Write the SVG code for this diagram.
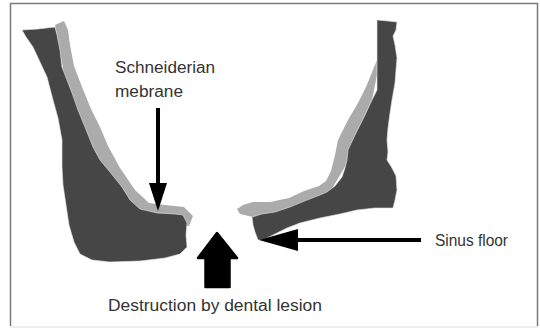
<svg xmlns="http://www.w3.org/2000/svg" width="540" height="329" viewBox="0 0 540 329">
  <style>
    .bone { fill: #464646; stroke: #e6e6e6; stroke-width: 0.6; }
    .mucosa { fill: #ababab; }
    .label { font-family: "Liberation Sans", Arial, sans-serif; font-size: 16px; fill: #333333; }
    .pointer { stroke: #000000; stroke-width: 4; fill: none; }
    .head { fill: #000000; }
  </style>

  <!-- frame -->
  <rect x="0" y="0" width="540" height="329" fill="#ffffff"/>
  <path d="M10.5,326 V3.5 H537.5 V326" fill="none" stroke="#7a7a7a" stroke-width="1.5"/>
  <line x1="10" y1="327" x2="538" y2="327" stroke="#dddddd" stroke-width="1"/>

  <!-- left sinus wall -->
  <g id="wall-left">
    <path class="mucosa" d="M55,25 L64,21 L68,30 L70,45 L74,66 L82,87 L91,109 L100,127 L108,146 L120,168 L135,190 L149,203 L165,205 L184,207 L193,216 L189,226 L170,225 L140,222 L115,200 L95,160 L80,120 L65,80 L58,40 Z"/>
    <path class="bone" d="M22,30 L38,29 L55,27 L57,35 L60,50 L62,67 L67,80 L72,93 L78,110 L85,127 L93,147 L100,160 L110,172 L122,187 L130,200 L140,209 L157,213 L175,214 L183,215 L187,223 L186,235 L187,247 L180,254 L165,258 L140,261 L110,262 L92,260 L80,254 L74,242 L69,225 L66,205 L63,185 L62,167 L62,140 L58,118 L53,100 L47,77 L40,62 L33,47 L26,37 Z"/>
  </g>

  <!-- right sinus wall -->
  <g id="wall-right">
    <path class="mucosa" d="M366,20 L377,20 L377,60 L366,87 L358,103 L348,120 L338,140 L335,155 L331,171 L326,181 L319,186 L304,191 L289,198 L270,202 L253,202 L243,205 L237,209 L240,214 L253,217 L290,210 L330,192 L346,165 L355,135 L372,100 L380,60 L380,20 Z"/>
    <path class="bone" d="M377,20 L388,21 L397,22 L396,30 L393,36 L395,45 L397,58 L396,70 L395,83 L392,100 L390,113 L388,128 L387,140 L388,152 L387,160 L392,168 L396,176 L397,190 L395,200 L393,208 L375,208 L357,210 L340,214 L320,218 L300,223 L287,228 L275,234 L263,240 L258,240 L255,232 L253,225 L252,217 L262,214 L275,212 L290,207 L307,200 L320,195 L327,192 L335,186 L342,177 L345,168 L347,160 L348,150 L355,135 L365,115 L372,100 L377,90 Z"/>
  </g>

  <!-- pointers -->
  <g id="connectors">
    <line class="pointer" x1="158" y1="108" x2="158" y2="186"/>
    <polygon class="head" points="149,183 167,183 158,211"/>
    <line class="pointer" x1="296" y1="240" x2="421" y2="240"/>
    <polygon class="head" points="259,240 298,229 298,251"/>
    <polygon class="head" points="217,233 237,258 229.5,258 229.5,287 205.5,287 205.5,258 198,258" stroke="#000000" stroke-width="2.5" stroke-linejoin="round"/>
  </g>

  <!-- labels -->
  <g id="labels">
    <text class="label" x="115" y="73" textLength="100" lengthAdjust="spacingAndGlyphs">Schneiderian</text>
    <text class="label" x="115" y="97" textLength="68" lengthAdjust="spacingAndGlyphs">mebrane</text>
    <text class="label" x="435" y="246" textLength="73" lengthAdjust="spacingAndGlyphs">Sinus floor</text>
    <text class="label" x="108" y="311" textLength="214" lengthAdjust="spacingAndGlyphs">Destruction by dental lesion</text>
  </g>
</svg>
